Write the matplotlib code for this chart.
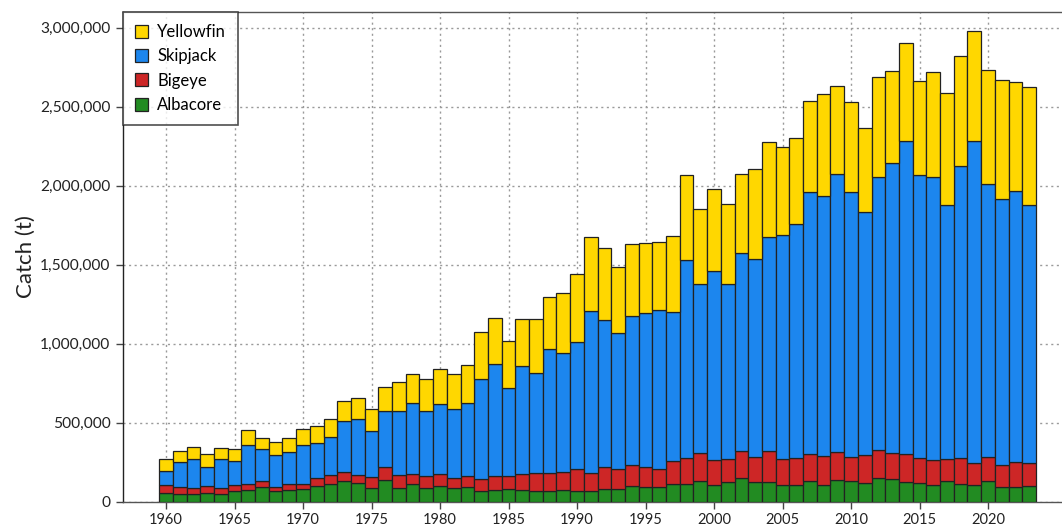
import numpy as np
import matplotlib
matplotlib.use("Agg")
import matplotlib.pyplot as plt
from matplotlib.ticker import FuncFormatter, MultipleLocator

plt.rcParams['font.family'] = ['Lato', 'DejaVu Sans']

years = list(range(1960, 2024))
tick_years = list(range(1960, 2021, 5))

# catches in thousand tonnes
albacore = [57, 51, 51, 57, 51, 66, 74, 93, 66, 76,
            78, 99, 114, 129, 118, 89, 137, 89, 112, 89,
            99, 87, 95, 70, 76, 80, 76, 66, 70, 76,
            66, 66, 78, 80, 99, 93, 93, 112, 112, 131,
            106, 127, 150, 123, 123, 106, 106, 131, 106, 137,
            131, 116, 148, 142, 123, 116, 106, 133, 112, 106,
            133, 91, 91, 99]
bigeye = [49, 42, 38, 42, 36, 40, 38, 38, 29, 36,
          36, 49, 53, 57, 53, 65, 81, 78, 65, 72,
          74, 66, 70, 76, 89, 85, 97, 116, 112, 110,
          139, 116, 144, 125, 135, 125, 116, 146, 165, 177,
          158, 145, 169, 160, 196, 164, 171, 171, 183, 178,
          152, 178, 177, 168, 179, 161, 158, 137, 165, 139,
          150, 141, 158, 146]
skipjack = [88, 158, 181, 121, 183, 152, 247, 201, 201, 203,
            245, 225, 242, 325, 352, 292, 354, 405, 450, 413,
            447, 432, 462, 632, 705, 553, 686, 633, 784, 753,
            806, 1023, 928, 863, 941, 974, 1002, 941, 1251, 1068,
            1196, 1104, 1255, 1251, 1358, 1420, 1481, 1660, 1644, 1759,
            1675, 1538, 1728, 1834, 1983, 1791, 1791, 1608, 1848, 2040,
            1726, 1684, 1716, 1633]
yellowfin = [76, 72, 78, 80, 72, 74, 95, 73, 80, 90,
             99, 108, 116, 128, 135, 139, 156, 184, 181, 201,
             220, 225, 236, 294, 291, 299, 297, 341, 331, 380,
             432, 468, 456, 417, 454, 443, 433, 485, 540, 478,
             517, 510, 498, 570, 601, 555, 546, 572, 647, 557,
             570, 533, 633, 584, 620, 595, 666, 711, 694, 692,
             725, 751, 691, 747]

species = ["Albacore", "Bigeye", "Skipjack", "Yellowfin"]
colors = ["#228B22", "#CD2626", "#1C86EE", "#FFD700"]
series = [albacore, bigeye, skipjack, yellowfin]

fig = plt.figure(figsize=(10.62, 5.26), dpi=100)
ax = fig.add_axes([0.1158, 0.0462, 0.8842, 0.9304])

x = np.array(years)
bottom = np.zeros(len(years))
handles = {}
for name, col, vals in zip(species, colors, series):
    v = np.array(vals) * 1000.0
    b = ax.bar(x, v, width=1.0, bottom=bottom, color=col,
               edgecolor="#222222", linewidth=0.9, zorder=3, label=name)
    handles[name] = b
    bottom += v

ax.set_xlim(1956.86, 2025.4)
ax.set_ylim(0, 3097000)
ax.set_xticks(tick_years)
ax.yaxis.set_major_locator(MultipleLocator(500000))
ax.yaxis.set_major_formatter(FuncFormatter(lambda v, p: f"{int(v):,}"))
ax.grid(True, linestyle=(0, (1.5, 2.5)), color="#9a9a9a", linewidth=1.0, zorder=0)
ax.set_axisbelow(True)

ax.spines['right'].set_visible(False)
ax.spines['top'].set_color("#555555")
ax.spines['left'].set_color("#222222")
ax.spines['bottom'].set_color("#555555")
for s in ax.spines.values():
    s.set_linewidth(1.0)

ax.tick_params(axis='both', direction='out', length=5, width=1.0,
               colors="#444444", labelcolor="#222222")
ax.tick_params(axis='x', pad=3, labelsize=10.5)
ax.tick_params(axis='y', pad=4, labelsize=11.2)

ax.set_ylabel("Catch (t)", fontsize=16, color="#222222")
ax.yaxis.set_label_coords(-0.093, 0.5)

order = ["Yellowfin", "Skipjack", "Bigeye", "Albacore"]
leg = ax.legend([handles[n] for n in order], order, loc="upper left",
                bbox_to_anchor=(0, 1), borderaxespad=0, fontsize=12,
                frameon=True, fancybox=False, edgecolor="#222222",
                handlelength=0.8, handleheight=0.8, handletextpad=0.55,
                labelspacing=0.5, borderpad=0.7)
leg.get_frame().set_linewidth(1.2)
leg.set_zorder(10)

fig.savefig("out.png", dpi=100)
